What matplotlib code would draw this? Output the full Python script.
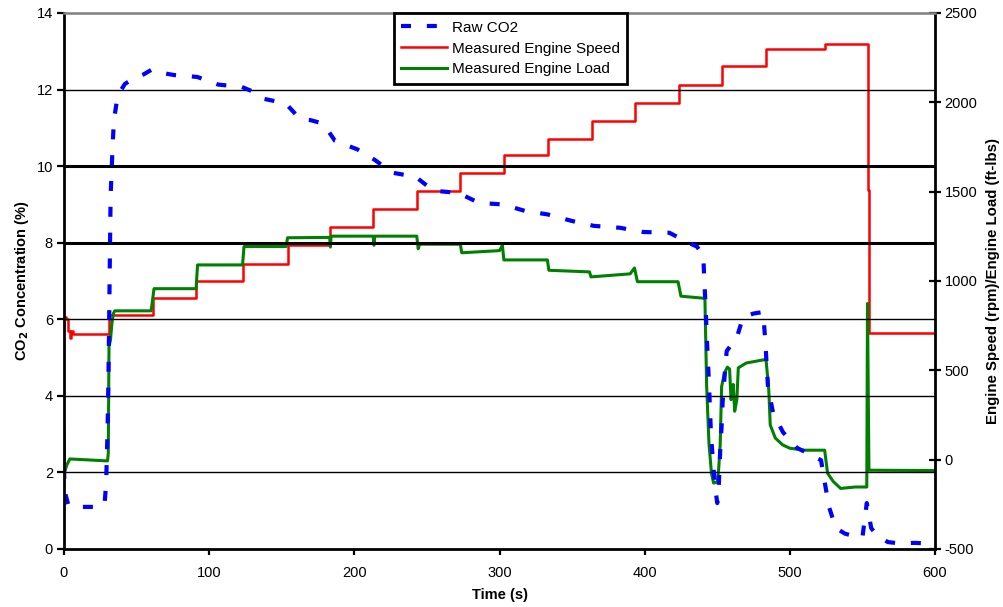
import numpy as np
import matplotlib
matplotlib.use('Agg')
import matplotlib.pyplot as plt

plt.rcParams['font.family'] = ['Liberation Sans', 'DejaVu Sans']
plt.rcParams['axes.unicode_minus'] = False

# Raw CO2 (%), left axis
co2_time = [0, 0.5, 3, 8, 13, 20, 26, 28, 29, 30, 30.5, 31, 31.5, 32.1, 33.5, 34.4, 37, 42, 47.3, 55,
            60.4, 65, 75.8, 91.8, 106.3, 122.4, 130, 136.2, 152.7, 162.6, 170, 178.6, 186.7, 202, 214.2,
            226, 242.3, 254.4, 271.6, 286, 302.2, 317.6, 333, 349.7, 365, 383, 399, 417, 431.2, 436,
            440.4, 441.1, 442, 442.7, 443.5, 444.3, 445, 445.7, 447, 448.5, 450, 451, 452, 453, 453.7,
            455, 456.5, 460, 463, 467.8, 475, 481.6, 483, 485, 488.5, 495.3, 505, 515, 521.5, 524, 527,
            531.6, 538, 546, 550, 551.8, 553, 554.5, 556, 560, 567.6, 575, 586, 592]
co2_val = [2.1, 1.5, 1.15, 1.1, 1.1, 1.1, 1.1, 1.2, 1.7, 3.1, 4.2, 5.6, 7.3, 9.2, 10.55, 11.2, 11.85, 12.15,
           12.27, 12.4, 12.52, 12.45, 12.38, 12.33, 12.13, 12.07, 11.95, 11.77, 11.64, 11.23, 11.2, 11.11,
           10.66, 10.44, 10.16, 9.83, 9.72, 9.36, 9.3, 9.04, 9.0, 8.83, 8.74, 8.57, 8.44, 8.39, 8.28, 8.26,
           7.98, 7.9, 7.66, 7.0, 6.33, 5.63, 4.96, 4.33, 3.63, 2.98, 2.32, 1.62, 1.2, 1.6, 2.53, 3.2, 3.84,
           4.49, 5.17, 5.35, 5.46, 6.06, 6.15, 6.19, 5.48, 4.2, 3.55, 3.05, 2.64, 2.45, 2.32, 1.75, 1.1,
           0.55, 0.4, 0.32, 0.3, 0.84, 1.2, 0.9, 0.55, 0.35, 0.18, 0.15, 0.16, 0.15]

# Measured engine speed (rpm), right axis, step changes
speed_time = [0, 1.5, 3, 4, 5, 6, 30, 31, 61, 91, 123.5, 154, 183, 213, 243, 273, 303, 333.5, 363.5,
              393.5, 423.5, 453.5, 483.5, 524, 553.8, 554.1, 554.4, 600]
speed_val = [800, 790, 720, 680, 720, 705, 705, 807, 903, 1000, 1096, 1204, 1300, 1403, 1504, 1606, 1705,
             1797, 1896, 1997, 2098, 2202, 2297, 2329, 1640, 1510, 710, 710]

# Measured engine load (ft-lbs), right axis
load_time = [0, 0.3, 2, 4, 30, 30.5, 31, 32, 33, 34, 35, 60, 61, 62, 91, 92, 123, 124, 153, 154, 183,
             183.5, 184, 213, 213.5, 214, 243, 244, 245, 273, 274, 300, 302, 303, 333, 334, 362, 363, 390,
             393, 395, 423, 425, 440, 441.5, 442.7, 444.3, 446, 447.5, 450, 451, 452, 453, 455, 457,
             458.5, 459.5, 461, 462, 463.5, 464.5, 470, 480, 483.6, 485.5, 486.5, 490, 495, 500, 510, 524,
             526, 530, 535, 545, 553, 553.5, 554.5, 600]
load_val = [164, -71, -29, 4, -7, 36, 636, 668, 764, 818, 833, 833, 893, 957, 957, 1090, 1090, 1193, 1193,
            1242, 1244, 1190, 1251, 1251, 1200, 1251, 1251, 1180, 1206, 1206, 1158, 1170, 1200, 1118,
            1118, 1060, 1051, 1023, 1040, 1073, 996, 996, 915, 904, 904, 409, 91, -76, -131, -125, -50, 79,
            409, 486, 518, 507, 336, 421, 271, 336, 514, 541, 556, 561, 389, 194, 121, 83, 64, 53, 53,
            -76, -123, -161, -153, -153, 874, -59, -61]

x_ticks = [0, 100, 200, 300, 400, 500, 600]
co2_ticks = [0, 2, 4, 6, 8, 10, 12, 14]
right_ticks = [-500, 0, 500, 1000, 1500, 2000, 2500]

fig = plt.figure(figsize=(10.04, 6.07), dpi=100)
ax = fig.add_axes([64 / 1004, 1 - 549 / 607, 871 / 1004, 536 / 607])
ax2 = ax.twinx()

l_red, = ax2.plot(speed_time, speed_val, color='#ff0000', lw=1.8, drawstyle='steps-post',
                  label='Measured Engine Speed')
l_green, = ax2.plot(load_time, load_val, color='#008000', lw=2.2, label='Measured Engine Load')
l_blue, = ax.plot(co2_time, co2_val, color='#0000ff', lw=3.0, linestyle=(0, (2.4, 3.8)),
                  dash_capstyle='butt', label='Raw CO2')

ax.set_zorder(ax2.get_zorder() + 1)
ax.patch.set_visible(False)

ax.set_xlim(0, 600)
ax.set_ylim(0, 14)
ax2.set_ylim(-500, 2500)
ax.set_xticks(x_ticks)
ax.set_yticks(co2_ticks)
ax2.set_yticks(right_ticks)

ax.grid(axis='y', color='black', lw=1.0)
glines = ax.get_ygridlines()
glines[0].set_visible(False)
glines[-1].set_visible(False)
glines[4].set_linewidth(2.2)
glines[5].set_linewidth(2.2)

for s in ['left', 'bottom']:
    ax.spines[s].set_linewidth(2.0)
ax.spines['top'].set_color('#808080')
ax.spines['top'].set_linewidth(1.8)
ax.spines['right'].set_visible(False)
for s in ['left', 'bottom', 'top']:
    ax2.spines[s].set_visible(False)
ax2.spines['right'].set_linewidth(2.0)

ax.tick_params(axis='y', direction='out', length=5, width=1.6, labelsize=10.5, pad=3)
ax.tick_params(axis='x', direction='out', length=4, width=1.6, labelsize=10.5, pad=8)
ax2.tick_params(axis='y', direction='inout', length=8, width=1.6, labelsize=10.5, pad=3)

ax.set_xlabel('Time (s)', fontsize=10.5, fontweight='bold', labelpad=6)
ax.set_ylabel('CO$_\\mathbf{2}$ Concentration (%)', fontsize=10.5, fontweight='bold', labelpad=4)
ax2.set_ylabel('Engine Speed (rpm)/Engine Load (ft-lbs)', fontsize=10.8, fontweight='bold', labelpad=6)

leg = ax.legend([l_blue, l_red, l_green], ['Raw CO2', 'Measured Engine Speed', 'Measured Engine Load'],
                loc='upper center', bbox_to_anchor=(0.5126, 1.0), fontsize=11, frameon=True,
                fancybox=False, framealpha=1, edgecolor='black', handlelength=3.0, handletextpad=0.3,
                labelspacing=0.45, borderpad=0.5, borderaxespad=0.0)
leg.get_frame().set_linewidth(2.0)

fig.savefig('out.png', dpi=100)
